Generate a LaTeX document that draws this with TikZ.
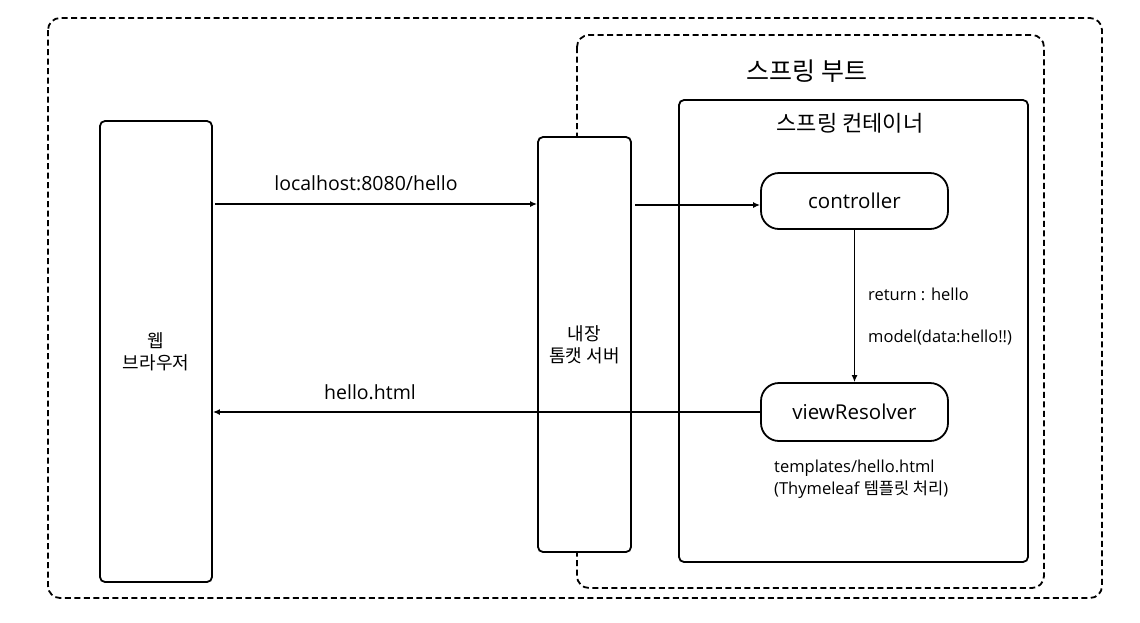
\documentclass[tikz,border=0pt]{standalone}
\usepackage{fontspec}
\setmainfont{Open Sans}
\newfontfamily\kr{Noto Sans CJK KR}
\usetikzlibrary{arrows.meta}
\begin{document}
\begin{tikzpicture}[x=1pt,y=-1pt,
  dashbox/.style={draw,line width=1.8pt,dash pattern=on 6pt off 3.5pt,rounded corners=12pt},
  solidbox/.style={draw,line width=1.8pt,rounded corners=5pt,fill=white},
  pill/.style={draw,line width=1.8pt,rounded corners=18pt,fill=white,font=\fontsize{20.5}{24}\selectfont},
  conn/.style={line width=1.4pt,-{Latex[length=7pt,width=6pt]}},
  lbl/.style={font=\fontsize{19.5}{23}\selectfont},
  small/.style={font=\fontsize{16.5}{20}\selectfont,anchor=west,inner sep=0pt}
]
\useasboundingbox (0,0) rectangle (1140,622);
% outer dashed box
\draw[dashbox] (48,18) rectangle (1102,598);
% spring boot dashed box
\draw[dashbox] (577,35) rectangle (1044,588);
\node[font=\kr\fontsize{25}{29}\selectfont] (bootlbl) at (807,71) {스프링 부트};
% container box
\draw[solidbox,fill=none] (679,100) rectangle (1028,562);
\node[font=\kr\fontsize{22}{26}\selectfont] (contlbl) at (850,123) {스프링 컨테이너};
% web browser
\node[solidbox,minimum width=112pt,minimum height=461pt,align=center,font=\kr\fontsize{18}{22}\selectfont] (web) at (156,351.5) {웹\\브라우저};
% tomcat
\node[solidbox,minimum width=93pt,minimum height=415pt,align=center,font=\kr\fontsize{18}{22}\selectfont] (tomcat) at (584.5,344.5) {내장\\톰캣 서버};
% controller and viewResolver
\node[pill,minimum width=187pt,minimum height=56pt] (ctrl) at (854.5,201) {controller};
\node[pill,minimum width=187pt,minimum height=58pt] (view) at (854.5,412) {viewResolver};
% connectors
\coordinate (a1s) at (215,204);
\draw[conn] (a1s) -- (tomcat.west |- a1s);
\node[lbl] (l1) at (366,183) {localhost:8080/hello};
\coordinate (a2s) at (635,205);
\draw[conn] (a2s) -- (ctrl.west |- a2s);
\draw[conn] (ctrl.south) -- (view.north);
\node[small] (r1) at (868,294) {return : hello};
\node[small] (r2) at (868,338) {model(data:hello!!)};
\draw[conn] (view.west) -- (web.east |- view.west);
\node[lbl] (l2) at (370,392) {hello.html};
\node[small] (t1) at (774,468) {templates/hello.html};
\node[small] (t2) at (774,490) {(Thymeleaf {\kr 템플릿 처리})};
\end{tikzpicture}
\end{document}
